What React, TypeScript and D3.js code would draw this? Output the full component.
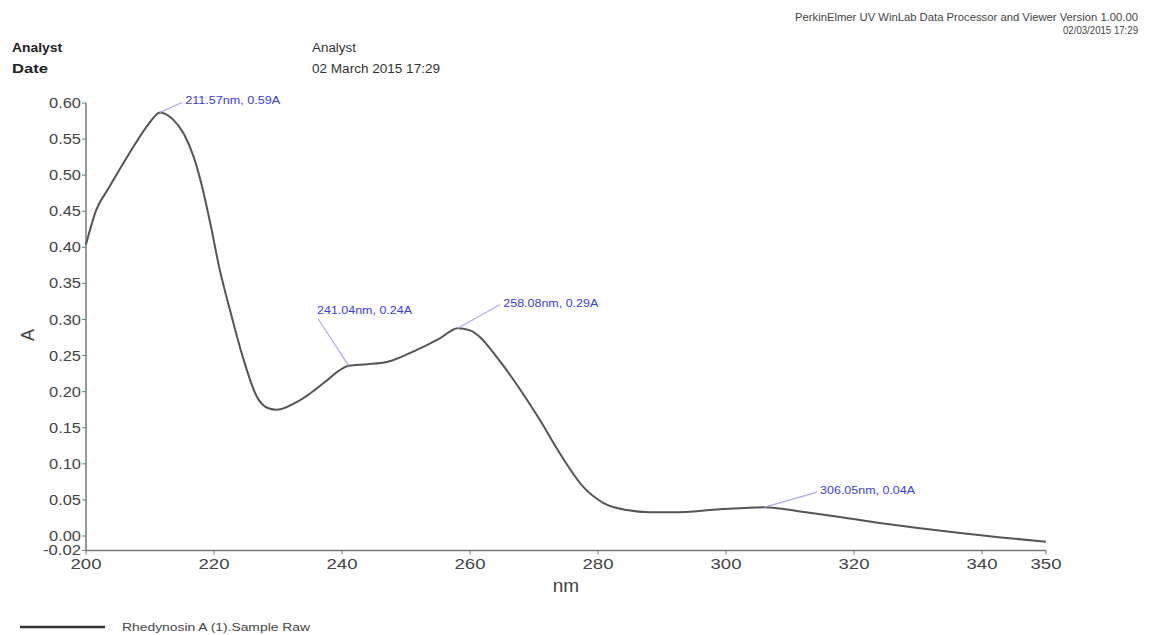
import React from "react";
import * as d3 from "d3";

const wavelengths = [200, 201.6, 203.4, 205.2, 207.8, 209.8, 211.57, 213.5, 215.3, 216.8, 218, 219.4, 220.9, 222.5, 224.5, 226.7, 228.5, 229.8, 233.4, 237.7, 239.5, 241.04, 243.9, 247, 251.7, 255.3, 258.08, 260, 261.5, 263.3, 265.2, 267.3, 270.9, 274, 277.7, 280.8, 284.5, 288.1, 292.8, 299, 306.05, 311.6, 318, 324, 330, 336.6, 343, 350];
const absorbance = [0.404, 0.452, 0.48, 0.507, 0.545, 0.571, 0.587, 0.578, 0.557, 0.526, 0.489, 0.434, 0.369, 0.313, 0.248, 0.193, 0.177, 0.175, 0.188, 0.216, 0.229, 0.236, 0.238, 0.241, 0.258, 0.274, 0.288, 0.285, 0.276, 0.258, 0.236, 0.21, 0.161, 0.115, 0.068, 0.046, 0.036, 0.033, 0.033, 0.037, 0.04, 0.034, 0.026, 0.018, 0.011, 0.004, -0.002, -0.008];

const yTicks = [0.6, 0.55, 0.5, 0.45, 0.4, 0.35, 0.3, 0.25, 0.2, 0.15, 0.1, 0.05, 0.0, -0.02];
const xTicks = [200, 220, 240, 260, 280, 300, 320, 340, 350];

const peakLabels = ["211.57nm, 0.59A", "241.04nm, 0.24A", "258.08nm, 0.29A", "306.05nm, 0.04A"];
const peakX = [211.57, 241.04, 258.08, 306.05];
const peakY = [0.587, 0.236, 0.288, 0.04];
const labelNm = [215.5, 236.1, 265.2, 314.7];
const labelA = [0.598, 0.308, 0.318, 0.058];

export default function App() {
  const W = 1154, H = 635;
  const x = d3.scaleLinear().domain([200, 350]).range([86, 1046]);
  const y = d3.scaleLinear().domain([0, 0.6]).range([536, 103]);
  const pts = wavelengths.map((w, i) => [w, absorbance[i]] as [number, number]);
  const line = d3.line<[number, number]>().x(d => x(d[0])).y(d => y(d[1])).curve(d3.curveMonotoneX);
  const font = "Liberation Sans, Arial, sans-serif";
  const axisColor = "#777";
  const y0 = y(-0.02);
  return (
    <svg width={W} height={H} style={{ position: "absolute", left: 0, top: 0, background: "#fff" }} fontFamily={font}>
      <rect x={0} y={0} width={W} height={H} fill="#fff" />
      <text x={1138} y={21} fontSize={10} textAnchor="end" fill="#444" textLength={343} lengthAdjust="spacingAndGlyphs">PerkinElmer UV WinLab Data Processor and Viewer Version 1.00.00</text>
      <text x={1138} y={34} fontSize={10} textAnchor="end" fill="#444" textLength={75} lengthAdjust="spacingAndGlyphs">02/03/2015 17:29</text>
      <text x={12} y={52} fontSize={12} fontWeight="bold" fill="#222" textLength={50} lengthAdjust="spacingAndGlyphs">Analyst</text>
      <text x={12} y={73} fontSize={12} fontWeight="bold" fill="#222" textLength={36} lengthAdjust="spacingAndGlyphs">Date</text>
      <text x={312} y={52} fontSize={12} fill="#333" textLength={44} lengthAdjust="spacingAndGlyphs">Analyst</text>
      <text x={312} y={73} fontSize={12} fill="#333" textLength={128} lengthAdjust="spacingAndGlyphs">02 March 2015 17:29</text>

      <line x1={86} x2={86} y1={y(0.6)} y2={y0} stroke={axisColor} strokeWidth={1.5} />
      <line x1={86} x2={1046} y1={y0} y2={y0} stroke={axisColor} strokeWidth={1.5} />
      {yTicks.map(t => (
        <g key={t}>
          <line x1={82} x2={86} y1={y(t)} y2={y(t)} stroke={axisColor} />
          <text x={81} y={y(t) + 5} fontSize={14} textAnchor="end" fill="#444" textLength={t < 0 ? 38 : 32} lengthAdjust="spacingAndGlyphs">{t.toFixed(2)}</text>
        </g>
      ))}
      {xTicks.map(t => (
        <g key={t}>
          <line x1={x(t)} x2={x(t)} y1={y0} y2={y0 + 4} stroke={axisColor} />
          <text x={x(t)} y={y0 + 19} fontSize={15} textAnchor="middle" fill="#444" textLength={31} lengthAdjust="spacingAndGlyphs">{t}</text>
        </g>
      ))}
      <text x={566} y={592} fontSize={19} textAnchor="middle" fill="#444">nm</text>
      <text transform={`translate(34,335) rotate(-90)`} fontSize={18} textAnchor="middle" fill="#444">A</text>

      <path d={line(pts) || ""} fill="none" stroke="#555" strokeWidth={2} />

      {peakLabels.map((lab, i) => {
        const lx = x(labelNm[i]);
        const ly = y(labelA[i]);
        const px = x(peakX[i]);
        const py = y(peakY[i]);
        const below = i === 1;
        return (
          <g key={lab}>
            <line x1={px} y1={py} x2={below ? lx + 1 : lx - 3} y2={below ? ly + 5 : ly - 2} stroke="#aaaaee" strokeWidth={1.2} />
            <text x={lx} y={ly} fontSize={11} fill="#3b3bf0" textLength={95} lengthAdjust="spacingAndGlyphs">{lab}</text>
          </g>
        );
      })}

      <line x1={20} x2={105} y1={627} y2={627} stroke="#333" strokeWidth={2.5} />
      <text x={122} y={631} fontSize={11} fill="#444" textLength={188} lengthAdjust="spacingAndGlyphs">Rhedynosin A (1).Sample Raw</text>
    </svg>
  );
}
